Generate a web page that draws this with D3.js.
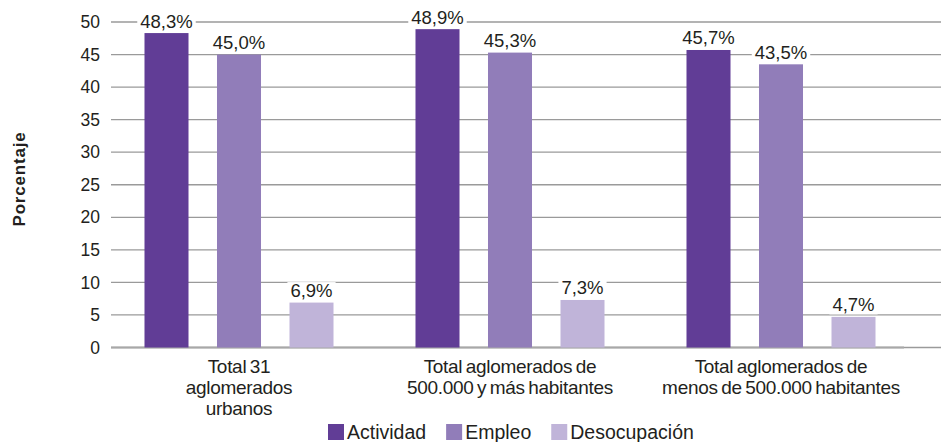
<!DOCTYPE html>
<html>
<head>
<meta charset="utf-8">
<script src="https://cdn.jsdelivr.net/npm/d3@7"></script>
<style>
  body { margin: 0; background: #fff; }
  svg text { font-family: "Liberation Sans", Arial, Helvetica, sans-serif; fill: #231f20; }
</style>
</head>
<body>
<div id="chart"></div>
<script>
// data
const categories = [
  ["Total 31", "aglomerados", "urbanos"],
  ["Total aglomerados de", "500.000 y más habitantes"],
  ["Total aglomerados de", "menos de 500.000 habitantes"]
];
const seriesNames = ["Actividad", "Empleo", "Desocupación"];
const actividad = [48.3, 48.9, 45.7];
const empleo = [45.0, 45.3, 43.5];
const desocupacion = [6.9, 7.3, 4.7];
const yTicks = [0, 5, 10, 15, 20, 25, 30, 35, 40, 45, 50];
const colors = ["#613d96", "#917db9", "#c0b4d9"];

const width = 941, height = 442;
const values = [actividad, empleo, desocupacion];
const catIdx = categories.map((d, i) => i);

const svg = d3.select("#chart").append("svg")
    .attr("width", width)
    .attr("height", height);

const y = d3.scaleLinear().domain([0, 50]).range([347.5, 22]);

const x0 = d3.scaleBand()
    .domain(catIdx)
    .range([103.5, 916.5])
    .paddingInner(0.1974)
    .paddingOuter(0.0987);

const x1 = d3.scaleBand()
    .domain(seriesNames)
    .range([0, x0.bandwidth()])
    .paddingInner(0.393)
    .paddingOuter(0.1965);

// gridlines
svg.append("g")
  .selectAll("line")
  .data(yTicks)
  .join("line")
    .attr("x1", 111)
    .attr("x2", width)
    .attr("y1", d => y(d))
    .attr("y2", d => y(d))
    .attr("stroke", "#9a9a9a")
    .attr("stroke-width", 1.3);

// y axis tick labels
const yAxis = svg.append("g")
    .attr("transform", "translate(111,0)")
    .call(d3.axisLeft(y).tickValues(yTicks).tickSize(0).tickPadding(11));
yAxis.select(".domain").remove();
yAxis.selectAll("text")
    .style("font-size", "17.5px")
    .style("font-family", "'Liberation Sans', Arial, sans-serif")
    .attr("fill", "#231f20");

// baseline
svg.append("line")
    .attr("x1", 111).attr("x2", 904)
    .attr("y1", y(0)).attr("y2", y(0))
    .attr("stroke", "#a8a8a8")
    .attr("stroke-width", 2.2);

// bars
const groups = svg.append("g")
  .selectAll("g")
  .data(catIdx)
  .join("g")
    .attr("transform", i => `translate(${x0(i)},0)`);

groups.selectAll("rect")
  .data(i => seriesNames.map((s, k) => ({s, k, v: values[k][i]})))
  .join("rect")
    .attr("x", d => x1(d.s))
    .attr("y", d => y(d.v))
    .attr("width", x1.bandwidth())
    .attr("height", d => y(0) - y(d.v))
    .attr("fill", d => colors[d.k]);

// value labels with white background
const lbl = groups.selectAll("g.lbl")
  .data(i => seriesNames.map((s, k) => ({s, k, v: values[k][i]})))
  .join("g")
    .attr("class", "lbl");

lbl.append("rect").attr("fill", "#fff");
lbl.append("text")
    .attr("x", d => x1(d.s) + x1.bandwidth() / 2)
    .attr("y", d => y(d.v) - 5.5)
    .attr("text-anchor", "middle")
    .style("font-size", "18.5px")
    .text(d => d3.format(".1f")(d.v).replace(".", ",") + "%");

lbl.each(function() {
  const t = d3.select(this).select("text").node().getBBox();
  d3.select(this).select("rect")
    .attr("x", t.x - 3).attr("y", t.y + 2)
    .attr("width", t.width + 6).attr("height", t.height - 3);
});

// category labels
groups.append("text")
    .attr("text-anchor", "middle")
    .style("font-size", "19px")
    .style("letter-spacing", "-0.3px")
    .style("word-spacing", "-1.5px")
    .attr("fill", "#333")
  .selectAll("tspan")
  .data(i => categories[i])
  .join("tspan")
    .attr("x", x0.bandwidth() / 2)
    .attr("y", (d, j) => 372.5 + j * 21)
    .text(d => d);

// y axis title
svg.append("text")
    .attr("transform", "translate(25,179) rotate(-90)")
    .attr("text-anchor", "middle")
    .style("font-size", "17px")
    .style("font-weight", "bold")
    .style("letter-spacing", "0.8px")
    .text("Porcentaje");

// legend
const legend = svg.append("g");
const items = legend.selectAll("g")
  .data(seriesNames)
  .join("g");
items.append("rect")
    .attr("width", 16).attr("height", 16)
    .attr("y", 424)
    .attr("fill", (d, k) => colors[k]);
items.append("text")
    .attr("x", 19)
    .attr("y", 439)
    .style("font-size", "19.5px")
    .text(d => d);

let off = 0;
items.each(function() {
  d3.select(this).attr("transform", `translate(${off},0)`);
  off += 19 + this.querySelector("text").getComputedTextLength() + 20;
});
legend.attr("transform", `translate(${328},0)`);
</script>
</body>
</html>
